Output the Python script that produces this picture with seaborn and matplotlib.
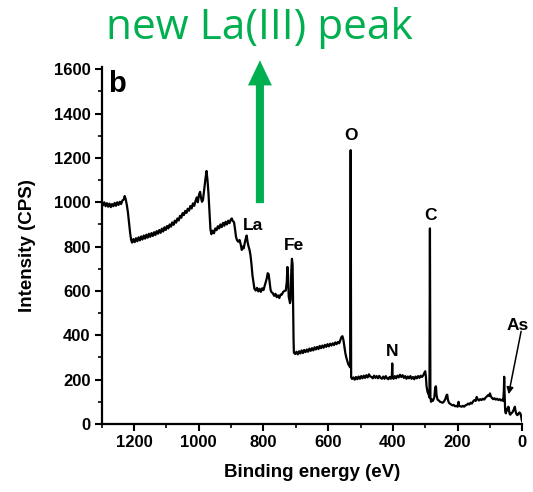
import numpy as np
import pandas as pd
import matplotlib
matplotlib.use("Agg")
import matplotlib.pyplot as plt
import seaborn as sns

# Survey spectrum (binding energy eV, intensity CPS)
energy = [
    1300, 1296, 1292, 1288, 1284, 1280, 1276, 1272, 1268, 1264, 1260, 1256, 1252, 1248, 1244, 1240,
    1236, 1232, 1229, 1226, 1222, 1219, 1215, 1212, 1209, 1206,
    1202, 1198, 1194, 1190, 1186, 1182, 1178, 1174, 1170, 1166, 1162, 1158, 1154, 1150, 1146, 1142,
    1138, 1134, 1130, 1126, 1122, 1118, 1114, 1110, 1106, 1102, 1098, 1094, 1090, 1086, 1082, 1078,
    1074, 1070, 1066, 1062, 1058, 1054, 1050, 1046, 1042, 1038, 1034, 1030, 1026, 1022, 1018, 1014,
    1010, 1006, 1003, 999, 996, 993, 990, 987, 983, 979, 976, 973, 970, 967, 964, 961, 957, 953,
    949, 945, 941, 937, 933, 929, 925, 921, 917, 913, 909, 905, 901, 898, 895, 891, 888, 885, 882,
    878, 874, 870, 867, 864, 861, 858, 855, 852, 849, 846, 843, 840, 837, 834, 831, 828, 824, 820,
    816, 812, 808, 804, 800, 797, 793, 790, 787, 784, 781, 778, 775, 771, 767, 763, 759, 755, 751,
    747, 743, 739, 735, 731, 728, 726, 724, 722, 720, 718, 716, 714, 712, 710, 708, 707, 706,
    702, 698, 694, 690, 686, 682, 678, 674, 670, 666, 662, 658, 654, 650, 646, 642, 638, 634, 630,
    626, 622, 618, 614, 610, 606, 602, 598, 594, 590, 586, 582, 578, 574, 570, 566, 562, 559, 556,
    553, 550, 547, 544, 541, 538, 535, 532, 530.5, 529,
    526, 522, 518, 514, 510, 506, 502, 498, 494, 490, 486, 482, 478, 474, 470, 466, 462, 458, 454,
    450, 446, 442, 438, 434, 430, 426, 422, 418, 414, 410, 406, 403, 402, 401, 398, 394, 390, 386,
    382, 378, 374, 370, 366, 362, 358, 354, 350, 346, 342, 338, 334, 330, 326, 322, 318, 314, 310,
    306, 303, 300, 298, 296, 293, 290, 287, 285.5, 284, 282, 279, 276, 272, 269, 267, 265, 262, 258,
    254, 250, 246, 242, 238, 234, 232, 230, 227, 224, 220, 216, 212, 208, 204, 200, 198, 197, 196,
    192, 188, 184, 180, 176, 172, 168, 164, 160, 156, 152, 148, 144, 141, 138, 134, 130, 126, 122,
    118, 114, 110, 106, 102, 100, 97, 94, 90, 86, 82, 78, 74, 70, 66, 62, 59, 57, 56, 55, 53, 51,
    49, 47, 45, 43, 41, 39, 37, 34, 31, 28, 25, 23, 21, 19, 17, 15, 12, 9, 6, 4, 2, 0,
]
intensity = [
    1002, 986, 1000, 982, 996, 980, 994, 978, 992, 982, 997, 984, 1000, 988, 1002, 992,
    1008, 1012, 1028, 1015, 985, 955, 900, 860, 830, 818,
    834, 820, 838, 824, 842, 828, 846, 832, 850, 836, 854, 840, 858, 844, 861, 848,
    865, 852, 870, 858, 875, 862, 881, 868, 887, 875, 893, 882, 900, 890, 909, 898,
    917, 908, 927, 918, 939, 930, 951, 942, 961, 952, 971, 962, 983, 972, 995, 984,
    1006, 1022, 1000, 1035, 1047, 1020, 1002, 1010, 1060, 1110, 1141, 1100, 1040, 960, 880, 856, 872, 860,
    882, 874, 892, 882, 900, 888, 907, 894, 912, 900, 917, 906, 922, 927, 916, 910, 880, 845, 830,
    822, 830, 808, 785, 800, 792, 815, 835, 850, 820, 800, 785, 760, 720, 670, 640, 610, 602, 614,
    598, 610, 596, 612, 604, 620, 640, 655, 680, 676, 640, 605, 594, 590, 578, 587, 572, 580, 568,
    584, 584, 596, 600, 602, 640, 708, 670, 575, 560, 545, 560, 690, 745, 720, 500, 380, 322,
    316, 326, 314, 328, 318, 332, 320, 334, 324, 336, 326, 340, 330, 342, 332, 346, 336, 348, 338,
    352, 342, 354, 344, 357, 348, 360, 350, 362, 354, 364, 356, 368, 360, 370, 364, 380, 392, 396,
    380, 350, 320, 300, 285, 270, 262, 255, 1235, 210,
    203, 210, 200, 212, 202, 214, 204, 216, 206, 218, 208, 220, 210, 224, 214, 212, 206, 218, 208,
    216, 206, 217, 208, 204, 214, 204, 216, 206, 202, 212, 204, 220, 273, 210, 204, 216, 206, 218,
    210, 222, 212, 220, 208, 216, 204, 214, 206, 216, 204, 212, 202, 214, 206, 216, 208, 218, 212,
    220, 230, 238, 215, 170, 145, 135, 120, 882, 120, 100, 110, 105, 120, 165, 170, 130, 110, 106,
    100, 98, 96, 102, 112, 130, 132, 110, 96, 92, 88, 84, 86, 80, 82, 78, 90, 100, 84,
    80, 78, 82, 78, 84, 86, 92, 88, 96, 92, 102, 108, 104, 122, 112, 106, 112, 108, 114,
    110, 118, 124, 130, 126, 138, 124, 118, 112, 116, 110, 114, 108, 112, 106, 110, 104, 150, 213, 150, 60, 48,
    60, 70, 62, 78, 60, 45, 42, 48, 52, 60, 70, 78, 60, 48, 42, 40, 46, 52, 48, 38, 20, 10,
]

peak_labels = ["La", "Fe", "O", "C", "N", "As"]
label_energy = [831, 705, 529, 285, 402, 14]
label_intensity = [897, 807, 1302, 942, 329, 446]

x_ticks = [1200, 1000, 800, 600, 400, 200, 0]
y_ticks = [0, 200, 400, 600, 800, 1000, 1200, 1400, 1600]

df = pd.DataFrame({"energy": energy, "intensity": intensity})

sns.set_theme(style="ticks")
plt.rcParams["font.family"] = ["Liberation Sans", "DejaVu Sans"]
plt.rcParams["font.weight"] = "bold"
plt.rcParams["text.color"] = "black"
plt.rcParams["axes.labelcolor"] = "black"
plt.rcParams["xtick.color"] = "black"
plt.rcParams["ytick.color"] = "black"

fig = plt.figure(figsize=(5.33, 4.92), dpi=100)
ax = fig.add_axes([101.7 / 533, 1 - 424 / 492, (522.3 - 101.7) / 533, (424 - 67) / 492])

sns.lineplot(data=df, x="energy", y="intensity", ax=ax, color="black",
             linewidth=1.6, estimator=None, sort=False)

ax.set_xlim(1300, 0)
ax.set_ylim(0, 1610)
ax.set_xticks(x_ticks)
ax.set_yticks(y_ticks)
ax.set_xticks(np.arange(1300, -1, -100), minor=True)
ax.set_yticks(np.arange(100, 1600, 200), minor=True)
ax.tick_params(axis="both", which="major", direction="out", length=5, width=1.5,
               labelsize=12, colors="black", pad=3)
ax.tick_params(axis="both", which="minor", direction="out", length=3, width=1.2, colors="black")
for lab in ax.get_xticklabels() + ax.get_yticklabels():
    lab.set_fontweight("bold")
sns.despine(ax=ax)
for s in ["left", "bottom"]:
    ax.spines[s].set_linewidth(1.6)
    ax.spines[s].set_color("black")

ax.set_xlabel("Binding energy (eV)", fontsize=13.5, fontweight="bold", labelpad=10, color="black")
ax.set_ylabel("Intensity (CPS)", fontsize=13.5, fontweight="bold", labelpad=13, color="black")

for lab, ex, iy in zip(peak_labels, label_energy, label_intensity):
    ax.text(ex, iy, lab, ha="center", va="center", fontsize=12.5, fontweight="bold",
            color="black")

# As arrow
ax.annotate("", xy=(44, 122), xytext=(2, 430),
            arrowprops=dict(arrowstyle="-|>", color="black", lw=1.1, mutation_scale=10),
            annotation_clip=False)

ax.text(1281, 1598, "b", ha="left", va="top", fontsize=21, fontweight="bold", color="black")

green = "#00B050"
ax.arrow(811, 996, 0, 1640 - 996, width=25, head_width=74, head_length=113,
         length_includes_head=True, color=green, clip_on=False, linewidth=0)

fig.text(259.2 / 533, 1 - 39.3 / 492, "new La(III) peak", ha="center", va="baseline",
         fontsize=30.5, color=green, fontweight="normal", family=["Open Sans", "DejaVu Sans"])

fig.savefig("out.png", dpi=100)
